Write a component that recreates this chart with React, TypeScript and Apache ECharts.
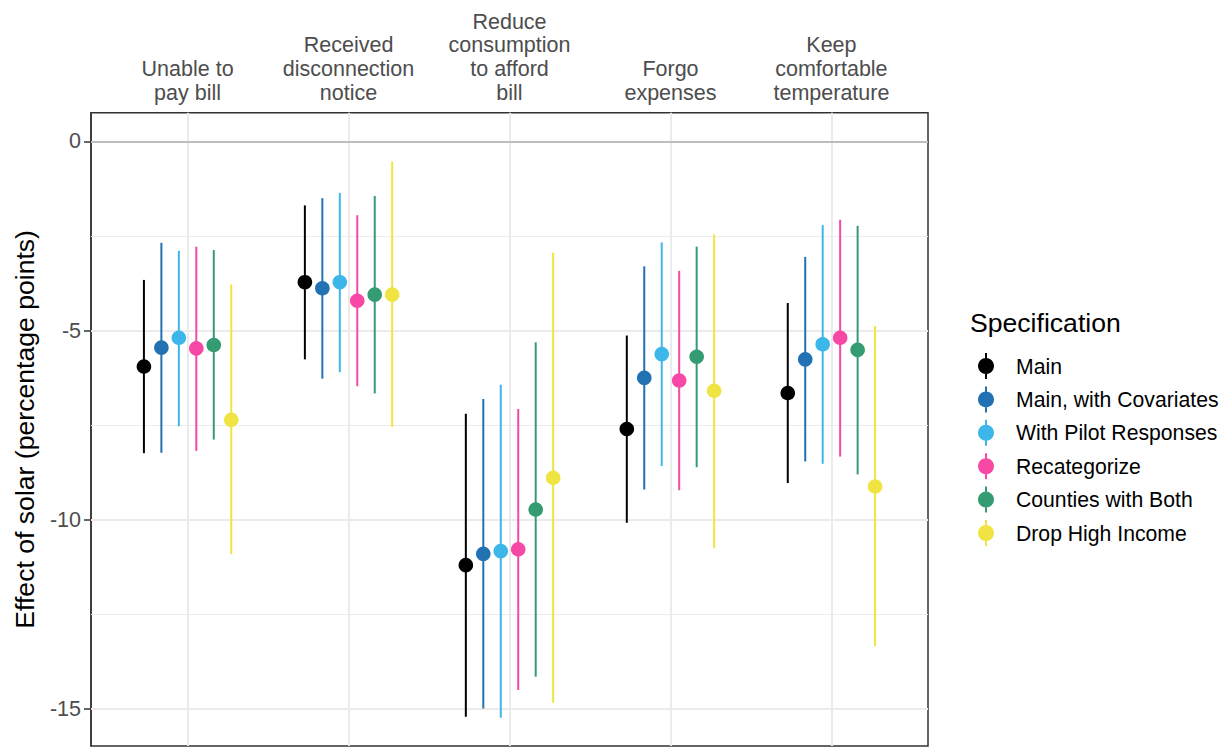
import React, { useEffect, useRef } from "react";
import * as echarts from "echarts";

const categories = [
  "Unable to\npay bill",
  "Received\ndisconnection\nnotice",
  "Reduce\nconsumption\nto afford\nbill",
  "Forgo\nexpenses",
  "Keep\ncomfortable\ntemperature",
];

const specs = [
  "Main",
  "Main, with Covariates",
  "With Pilot Responses",
  "Recategorize",
  "Counties with Both",
  "Drop High Income",
];

const colors = ["#000000", "#2271B2", "#3DB7E9", "#F748A5", "#359B73", "#F0E442"];

// point estimates, lower and upper bounds per specification (one value per category)
const mainEst = [-5.95, -3.72, -11.2, -7.6, -6.65];
const mainLo = [-8.24, -5.76, -15.21, -10.08, -9.03];
const mainHi = [-3.66, -1.69, -7.2, -5.13, -4.27];

const covEst = [-5.45, -3.88, -10.9, -6.25, -5.76];
const covLo = [-8.23, -6.27, -14.99, -9.2, -8.46];
const covHi = [-2.68, -1.5, -6.81, -3.3, -3.05];

const pilotEst = [-5.19, -3.72, -10.83, -5.62, -5.36];
const pilotLo = [-7.53, -6.1, -15.23, -8.58, -8.52];
const pilotHi = [-2.89, -1.36, -6.43, -2.67, -2.21];

const recatEst = [-5.47, -4.21, -10.78, -6.32, -5.19];
const recatLo = [-8.18, -6.47, -14.5, -9.22, -8.33];
const recatHi = [-2.78, -1.95, -7.07, -3.42, -2.07];

const countiesEst = [-5.38, -4.05, -9.73, -5.69, -5.51];
const countiesLo = [-7.88, -6.66, -14.15, -8.61, -8.8];
const countiesHi = [-2.87, -1.44, -5.31, -2.78, -2.23];

const dropEst = [-7.36, -4.05, -8.89, -6.59, -9.12];
const dropLo = [-10.91, -7.55, -14.84, -10.75, -13.34];
const dropHi = [-3.78, -0.53, -2.94, -2.45, -4.88];

const yTicks = [-15, -10, -5, 0];
const yMinorTicks = [-12.5, -7.5, -2.5];

const seriesValues = [
  [mainEst, mainLo, mainHi],
  [covEst, covLo, covHi],
  [pilotEst, pilotLo, pilotHi],
  [recatEst, recatLo, recatHi],
  [countiesEst, countiesLo, countiesHi],
  [dropEst, dropLo, dropHi],
];

const FONT = "'Liberation Sans', Arial, Helvetica, sans-serif";
const DODGE = 0.1085;
const legendIcon =
  "path://M7,0 L9,0 L9,26 L7,26 Z M8,5 A8,8 0 1,1 7.99,5 Z";

export default function App() {
  const ref = useRef<HTMLDivElement>(null);

  useEffect(() => {
    if (!ref.current) return;
    const chart = echarts.init(ref.current, undefined, { renderer: "svg" });

    const catPositions = categories.map((_, i) => i + 1);

    const pointSeries = specs.map((name, s) => {
      const [est, lo, hi] = seriesValues[s];
      const data = est.map((v, c) => [c + 1 + (s - 2.5) * DODGE, v, lo[c], hi[c]]);
      return {
        name,
        type: "custom",
        z: 3,
        itemStyle: { color: colors[s] },
        encode: { x: 0, y: [1, 2, 3] },
        data,
        renderItem: (params: any, api: any) => {
          const x = api.value(0);
          const pMid = api.coord([x, api.value(1)]);
          const pLo = api.coord([x, api.value(2)]);
          const pHi = api.coord([x, api.value(3)]);
          return {
            type: "group",
            children: [
              {
                type: "line",
                shape: { x1: pLo[0], y1: pLo[1], x2: pHi[0], y2: pHi[1] },
                style: { stroke: colors[s], lineWidth: 2 },
              },
              {
                type: "circle",
                shape: { cx: pMid[0], cy: pMid[1], r: 7.3 },
                style: { fill: colors[s] },
              },
            ],
          };
        },
      };
    });

    const gridSeries = {
      name: "grid",
      type: "line",
      data: [],
      z: 1,
      silent: true,
      markLine: {
        z: 1,
        silent: true,
        symbol: "none",
        label: { show: false },
        animation: false,
        data: [
          ...yMinorTicks.map((v) => ({ yAxis: v, lineStyle: { color: "#ececec", width: 1, type: "solid" } })),
          ...yTicks.map((v) => ({ yAxis: v, lineStyle: { color: "#ebebeb", width: 2, type: "solid" } })),
          ...catPositions.map((v) => ({ xAxis: v, lineStyle: { color: "#ebebeb", width: 2, type: "solid" } })),
          { yAxis: 0, lineStyle: { color: "#bdbdbd", width: 2, type: "solid" } },
        ],
      },
    };

    chart.setOption({
      animation: false,
      backgroundColor: "#ffffff",
      textStyle: { fontFamily: FONT },
      grid: {
        left: 91,
        top: 112.7,
        right: 297,
        bottom: 1,
        show: true,
        borderColor: "#333333",
        borderWidth: 1.5,
        backgroundColor: "transparent",
        containLabel: false,
      },
      xAxis: {
        type: "value",
        position: "top",
        min: 0.4,
        max: 5.6,
        axisLine: { show: true, lineStyle: { color: "#333333", width: 1.5 } },
        axisTick: {
          show: true,
          customValues: catPositions,
          length: 7,
          lineStyle: { color: "#333333", width: 1.5 },
        },
        axisLabel: {
          show: true,
          customValues: catPositions,
          formatter: (v: number) => categories[Math.round(v) - 1] ?? "",
          color: "#4d4d4d",
          fontSize: 21.5,
          lineHeight: 23.7,
          margin: 8,
          fontFamily: FONT,
          align: "center",
        },
        splitLine: { show: false },
      },
      yAxis: {
        type: "value",
        min: -15.98,
        max: 0.76,
        name: "Effect of solar (percentage points)",
        nameLocation: "middle",
        nameRotate: 90,
        nameGap: 53,
        nameTextStyle: { fontSize: 26.6, color: "#000000", fontFamily: FONT },
        axisLine: { show: true, lineStyle: { color: "#333333", width: 1.5 } },
        axisTick: {
          show: true,
          customValues: yTicks,
          length: 7,
          lineStyle: { color: "#333333", width: 1.5 },
        },
        axisLabel: {
          show: true,
          customValues: yTicks,
          formatter: (v: number) => String(v),
          color: "#4d4d4d",
          fontSize: 21.5,
          margin: 10,
          fontFamily: FONT,
        },
        splitLine: { show: false },
      },
      legend: {
        orient: "vertical",
        left: 978,
        top: 353,
        padding: 0,
        itemWidth: 16,
        itemHeight: 26,
        itemGap: 7.4,
        icon: legendIcon,
        data: specs,
        selectedMode: false,
        textStyle: {
          fontSize: 21.2,
          color: "#000000",
          fontFamily: FONT,
          padding: [0, 0, 0, 17],
        },
      },
      graphic: [
        {
          type: "text",
          left: 970,
          top: 309,
          style: {
            text: "Specification",
            fontSize: 26.6,
            fill: "#000000",
            fontFamily: FONT,
          },
        },
      ],
      series: [gridSeries, ...pointSeries],
    });

    return () => chart.dispose();
  }, []);

  return (
    <div
      ref={ref}
      style={{ position: "absolute", left: 0, top: 0, width: 1225, height: 747 }}
    />
  );
}
